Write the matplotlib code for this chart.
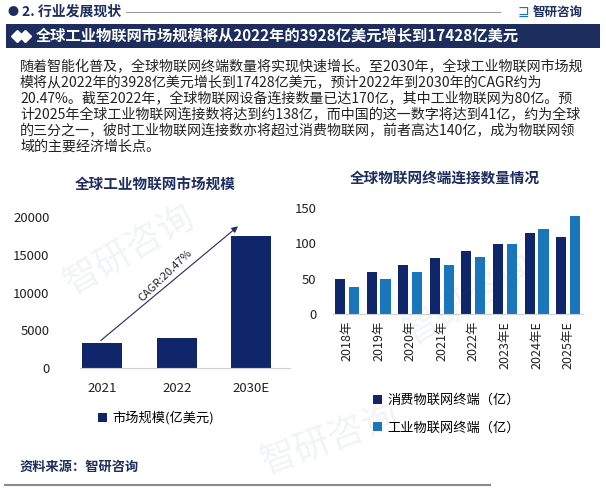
import matplotlib
matplotlib.use('Agg')
import matplotlib.pyplot as plt
from matplotlib.patches import Rectangle
import numpy as np

plt.rcParams['font.family'] = ['Noto Sans CJK SC', 'DejaVu Sans']
plt.rcParams['axes.unicode_minus'] = False

# 数据
market_years = ['2021', '2022', '2030E']
market_size = [3300, 3928, 17428]   # 亿美元

iot_years = ['2018年', '2019年', '2020年', '2021年', '2022年', '2023年E', '2024年E', '2025年E']
consumer_iot = [49, 59, 69, 79, 89, 99, 114, 108]   # 亿
industrial_iot = [38, 49, 59, 69, 80, 99, 120, 138]  # 亿

NAVY = '#10266a'
BLUE = '#1a76bb'
HEAD = '#1c2d5e'
TXT = '#222222'

W, H = 606, 500
fig = plt.figure(figsize=(W / 100, H / 100), dpi=100)
fig.patch.set_facecolor('white')


def fx(px):
    return px / W


def fy(py):
    return 1 - py / H


# 淡水印
for (x, y, r) in [(130, 250, 30), (470, 300, 30), (330, 440, 20)]:
    fig.text(fx(x), fy(y), '智研咨询', fontsize=26, color='#f1f3f7', rotation=r,
             ha='center', va='center', zorder=-5)

# 顶部标题栏
fig.text(fx(8), fy(12), '●', fontsize=8, color=HEAD, va='center')
fig.text(fx(22), fy(12), '2. 行业发展现状', fontsize=10, color=HEAD, va='center', weight='bold')
fig.add_artist(plt.Line2D([fx(126), fx(500)], [fy(12), fy(12)], color='#9a9a9a', lw=0.8))
fig.text(fx(518), fy(12), '⊒', fontsize=10, color=BLUE, va='center')
fig.text(fx(533), fy(12), '智研咨询', fontsize=9, color=HEAD, va='center', weight='bold')

fig.add_artist(Rectangle((fx(6), fy(48)), fx(594), 24 / H, transform=fig.transFigure,
                         facecolor=HEAD, edgecolor='none'))
fig.add_artist(plt.Line2D([fx(17), fx(25)], [fy(36), fy(36)], transform=fig.transFigure,
                          ls='none', marker='D', markersize=6, color='white'))
fig.text(fx(36), fy(36), '全球工业物联网市场规模将从2022年的3928亿美元增长到17428亿美元',
         fontsize=11, color='white', va='center', weight='bold')

body = ['随着智能化普及，全球物联网终端数量将实现快速增长。至2030年，全球工业物联网市场规',
        '模将从2022年的3928亿美元增长到17428亿美元，预计2022年到2030年的CAGR约为',
        '20.47%。截至2022年，全球物联网设备连接数量已达170亿，其中工业物联网为80亿。预',
        '计2025年全球工业物联网连接数将达到约138亿，而中国的这一数字将达到41亿，约为全球',
        '的三分之一，彼时工业物联网连接数亦将超过消费物联网，前者高达140亿，成为物联网领',
        '域的主要经济增长点。']
for i, line in enumerate(body):
    fig.text(fx(20), fy(67 + i * 16), line, fontsize=10.1, color=TXT, va='center')

# 左图：全球工业物联网市场规模
ax1 = fig.add_axes([fx(80), fy(368), fx(210), 151 / H])
x1 = np.arange(len(market_years))
ax1.bar(x1, market_size, width=0.54, color=NAVY, label='市场规模(亿美元)', zorder=2)
ax1.set_xlim(-0.3, 2.52)
ax1.set_ylim(0, 20000)
ax1.set_yticks([0, 5000, 10000, 15000, 20000])
ax1.set_xticks(x1)
ax1.set_xticklabels(market_years)
for s in ['top', 'right', 'left']:
    ax1.spines[s].set_visible(False)
ax1.spines['bottom'].set_color('#d0d0d0')
ax1.tick_params(axis='y', length=0, pad=22, labelsize=9.5, labelcolor=TXT)
ax1.tick_params(axis='x', length=0, pad=10, labelsize=9.5, labelcolor=TXT)
ax1.patch.set_alpha(0)
ax1.annotate('', xy=(1.85, 19000), xytext=(-0.05, 3400),
             arrowprops=dict(arrowstyle='-|>', color=HEAD, lw=0.8, mutation_scale=9))
ax1.text(0.85, 12200, 'CAGR:20.47%', rotation=44, fontsize=8, color=TXT,
         ha='center', va='center')
fig.text(fx(155), fy(185), '全球工业物联网市场规模', fontsize=10.5, color=HEAD,
         ha='center', va='center', weight='bold')
ax1.legend(loc='center', bbox_to_anchor=(fx(156), fy(418)), bbox_transform=fig.transFigure,
           frameon=False, handlelength=0.7, handleheight=0.7, handletextpad=0.4, fontsize=9.5)

# 右图：全球物联网终端连接数量情况
ax2 = fig.add_axes([fx(333), fy(314), fx(250), 106.3 / H])
x2 = np.arange(len(iot_years))
bw = 0.32
ax2.bar(x2 - 0.22, consumer_iot, width=bw, color=NAVY, label='消费物联网终端（亿）', zorder=2)
ax2.bar(x2 + 0.22, industrial_iot, width=bw, color=BLUE, label='工业物联网终端（亿）', zorder=2)
ax2.set_xlim(-0.44, 7.47)
ax2.set_ylim(0, 150)
ax2.set_yticks([0, 50, 100, 150])
ax2.set_xticks(x2)
ax2.set_xticklabels(iot_years, rotation=90)
for s in ['top', 'right', 'left']:
    ax2.spines[s].set_visible(False)
ax2.spines['bottom'].set_color('#d0d0d0')
ax2.tick_params(axis='y', length=0, pad=12, labelsize=9.5, labelcolor=TXT)
ax2.tick_params(axis='x', length=0, pad=5, labelsize=9, labelcolor=TXT)
ax2.patch.set_alpha(0)
fig.text(fx(445), fy(178), '全球物联网终端连接数量情况', fontsize=10.5, color=HEAD,
         ha='center', va='center', weight='bold')
ax2.legend(loc='upper left', bbox_to_anchor=(fx(361), fy(382)), bbox_transform=fig.transFigure,
           frameon=False, handlelength=0.7, handleheight=0.7, handletextpad=0.4,
           labelspacing=1.1, fontsize=9.5)

# 底部
fig.text(fx(20), fy(467), '资料来源：智研咨询', fontsize=9.5, color=HEAD, va='center', weight='bold')
fig.add_artist(plt.Line2D([fx(5), fx(490)], [fy(485), fy(485)], color='#8a8a8a', lw=1.5))

fig.savefig('out.png', dpi=100, facecolor='white')
